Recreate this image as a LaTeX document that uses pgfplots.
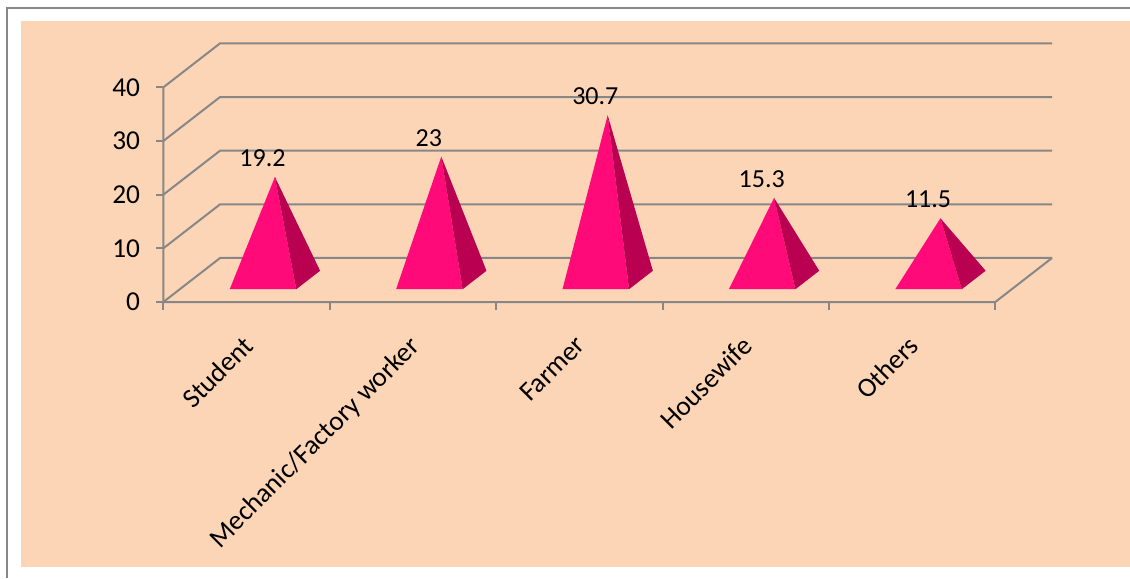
\documentclass[border=0pt]{standalone}
\usepackage{fontspec}
\setmainfont{Carlito}
\usepackage{pgfplots}
\usepackage{pgfplotstable}
\pgfplotsset{compat=1.18}
\definecolor{peach}{HTML}{FBD5B5}
\definecolor{gridg}{HTML}{878787}
\definecolor{pfront}{HTML}{FF0A78}
\definecolor{pside}{HTML}{BA0050}
\pgfplotstableread{
idx value
0 19.2
1 23
2 30.7
3 15.3
4 11.5
}\data
\def\DX{0.341}
\def\DY{8.2}
\begin{document}
\begin{tikzpicture}
\path[use as bounding box] (0,0) rectangle (847.5pt,433.5pt);
\fill[white] (0,0) rectangle (847.5pt,433.5pt);
\fill[peach] (15.75pt,8.25pt) rectangle (847.5pt,417.75pt);
\draw[gridg, line width=1.5pt] (5.25pt,0) -- (5.25pt,427.5pt) -- (847.5pt,427.5pt);
\begin{axis}[
  at={(122.5pt,207pt)}, anchor=south west,
  width=666.5pt, height=194pt, scale only axis,
  xmin=0, xmax=5.341, ymin=0, ymax=48.2,
  axis x line*=bottom, axis y line*=left,
  axis line style={draw=none},
  ytick={0,10,...,40},
  xtick={0.5,1.5,...,4.5},
  xticklabels={Student,Mechanic/Factory worker,Farmer,Housewife,Others},
  minor xtick={0,1,...,5},
  tick align=outside,
  major tick length=5.25pt, minor tick length=6pt,
  tick style={gridg, line width=1.5pt},
  major x tick style={draw=none},
  clip=false,
  /pgf/number format/assume math mode=true,
  tick label style={font=\fontsize{20.5}{24}\selectfont, text=black},
  x tick label style={anchor=north east, inner sep=0pt, xshift=-3.75pt, yshift=-18.75pt, rotate=45},
  y tick label style={anchor=east, inner sep=0pt, xshift=-12pt},
]
% back wall, side wall gridlines
\pgfplotsforeachungrouped \vv in {0,10,...,40}{
  \pgfmathsetmacro\vb{\vv+\DY}
  \pgfmathsetmacro\xe{5+\DX}
  \edef\tmp{\noexpand\addplot[gridg, line width=1.5pt] coordinates {(0,\vv) (\DX,\vb) (\xe,\vb)};}
  \tmp
}
% front axis line and floor
\addplot[gridg, line width=1.5pt] coordinates {(0,40) (0,0) (5,0) (5.341,8.2)};
% pyramids
\pgfplotsforeachungrouped \ii in {0,...,4}{
  \pgfplotstablegetelem{\ii}{value}\of\data
  \let\val\pgfplotsretval
  \pgfmathsetmacro\xfl{\ii+0.5-0.2+0.29*\DX}
  \pgfmathsetmacro\xfr{\ii+0.5+0.2+0.29*\DX}
  \pgfmathsetmacro\yf{0.29*\DY}
  \pgfmathsetmacro\xbr{\ii+0.5+0.2+0.71*\DX}
  \pgfmathsetmacro\yb{0.71*\DY}
  \pgfmathsetmacro\xa{\ii+0.5+0.5*\DX}
  \pgfmathsetmacro\ya{\val+0.5*\DY}
  \edef\tmp{\noexpand\addplot[fill=pfront, draw=none] coordinates {(\xfl,\yf) (\xfr,\yf) (\xa,\ya)};
    \noexpand\addplot[fill=pside, draw=none] coordinates {(\xfr,\yf) (\xbr,\yb) (\xa,\ya)};}
  \tmp
}
% value labels
\addplot[draw=none, nodes near coords, point meta=y,
  nodes near coords style={anchor=south, inner sep=0pt, xshift=12pt, yshift=24pt,
    font=\fontsize{19.5}{23}\selectfont, text=black}]
  table[x expr=\coordindex+0.5, y=value]{\data};
\end{axis}
\end{tikzpicture}
\end{document}
